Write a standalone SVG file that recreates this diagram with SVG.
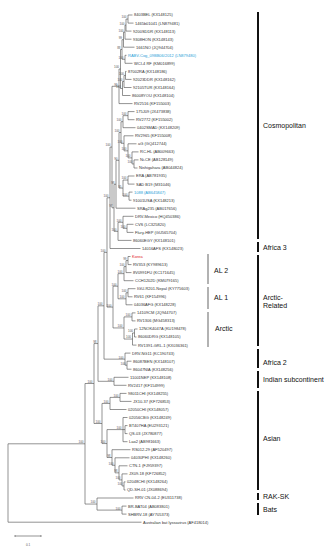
<svg xmlns="http://www.w3.org/2000/svg" width="331" height="550" viewBox="0 0 331 550">
<style>
.br{fill:none;stroke:#4a4a4a;stroke-width:0.6}
.lf{font-family:"Liberation Sans",Arial,sans-serif;font-size:4px;fill:#333}
.bs{font-family:"Liberation Sans",Arial,sans-serif;font-size:3px;fill:#555;text-anchor:end}
.gl{font-family:"Liberation Sans",Arial,sans-serif;font-size:7px;fill:#111}
.bar{stroke:#111;stroke-width:2}
.gbar{stroke:#999;stroke-width:1.5}
.blue{fill:#2a9fd8}
.red{fill:#e02020}
</style>
<rect width="331" height="550" fill="#fff"/>
<g id="connectors">
<path class="br" d="M128,15 V23.1 H133.5 M128,15 H132.5
M126,19.05 V31.1 H131.5 M126,19.05 H128
M125,25.1 V39.2 H131.5 M125,25.1 H126
M123.5,32.15 V47.2 H134.5 M123.5,32.15 H125
M125,55.3 V63.3 H132.5 M125,55.3 H126.5
M122,39.7 V59.3 H125 M122,39.7 H123.5
M125.5,71.4 V79.4 H131.5 M125.5,71.4 H126.5
M124,75.4 V87.5 H131.5 M124,75.4 H125.5
M122.5,81.45 V95.5 H130.5 M122.5,81.45 H124
M120.5,49.5 V88.5 H122.5 M120.5,49.5 H122
M119,69 V103.6 H132.5 M119,69 H120.5
M128,111.6 V119.7 H134.5 M128,111.6 H134.5
M123,115.65 V127.7 H135.5 M123,115.65 H128
M134,159.9 V168 H137.5 M134,159.9 H138.5
M132,151.9 V163.95 H134 M132,151.9 H138.5
M128,143.8 V157.9 H132 M128,143.8 H136.5
M124,135.8 V150.85 H128 M124,135.8 H133.5
M121,121.7 V143.3 H124 M121,121.7 H123
M128,176 V184.1 H134.5 M128,176 H134.5
M129,192.1 V200.2 H131.5 M129,192.1 H132.5
M123,180.05 V196.15 H129 M123,180.05 H128
M119,132.5 V188.1 H123 M119,132.5 H121
M116,160.3 V208.2 H135.5 M116,160.3 H119
M127,224.3 V232.4 H133.5 M127,224.3 H133.5
M123,216.3 V228.35 H127 M123,216.3 H133.5
M118,222.3 V240.4 H131.5 M118,222.3 H123
M114,184.25 V231.35 H118 M114,184.25 H116
M112,86.3 V207.8 H114 M112,86.3 H119
M110,147.05 V248.5 H140.5 M110,147.05 H112
M128,256.5 V264.6 H131.5 M128,256.5 H130.5
M126,260.55 V272.6 H131.5 M126,260.55 H128
M124,266.6 V280.7 H133.5 M124,266.6 H126
M128,288.7 V296.8 H132.5 M128,288.7 H135.5
M126,292.75 V304.8 H132.5 M126,292.75 H128
M118,273.65 V298.8 H126 M118,273.65 H124
M132,312.9 V320.9 H135.5 M132,312.9 H135.5
M134.5,329 V337 H136.5 M134.5,329 H137.5
M132.5,333 V345.1 H136.5 M132.5,333 H134.5
M124,316.9 V339.05 H132.5 M124,316.9 H132
M113,286.2 V327.95 H124 M113,286.2 H118
M107,197.75 V307.1 H113 M107,197.75 H110
M127,361.2 V369.2 H131.5 M127,361.2 H131.5
M125,353.1 V365.2 H127 M125,353.1 H130.5
M104,252.4 V359.15 H125 M104,252.4 H107
M114,377.3 V385.3 H126.5 M114,377.3 H128.5
M98,305.8 V381.3 H114 M98,305.8 H104
M120,393.4 V401.4 H131.5 M120,393.4 H126.5
M110,397.4 V409.5 H126.5 M110,397.4 H120
M125,425.6 V433.6 H127.5 M125,425.6 H127.5
M123,417.5 V441.7 H127.5 M123,417.5 H127.5 M123,429.6 H125
M124,481.9 V490 H125.5 M124,481.9 H125.5
M122,473.9 V485.95 H124 M122,473.9 H127.5
M119,465.8 V479.9 H122 M119,465.8 H127.5
M115,457.8 V472.85 H119 M115,457.8 H129.5
M112,449.7 V465.3 H115 M112,449.7 H130.5
M107,429.6 V457.5 H112 M107,429.6 H123
M102,403.45 V443.55 H107 M102,403.45 H110
M94,343.55 V423.5 H102 M94,343.55 H98
M122,506.1 V514.1 H126.5 M122,506.1 H126.5
M97,498 V510.1 H122 M97,498 H133.5
M85,383.5 V504.05 H97 M85,383.5 H94
M8,443.8 V522.2 H141.5 M8,443.8 H85"/>
</g>
<g id="bootstrap">
<text class="bs" x="126.5" y="18.45">100</text>
<text class="bs" x="124.5" y="24.5">100</text>
<text class="bs" x="123.5" y="31.55">100</text>
<text class="bs" x="122" y="39.1">99</text>
<text class="bs" x="123.5" y="58.7">100</text>
<text class="bs" x="120.5" y="48.9">88</text>
<text class="bs" x="124" y="74.8">100</text>
<text class="bs" x="122.5" y="80.85">100</text>
<text class="bs" x="121" y="87.9">100</text>
<text class="bs" x="119" y="68.4">100</text>
<text class="bs" x="117.5" y="85.7">99</text>
<text class="bs" x="110.5" y="146.45">100</text>
<text class="bs" x="126.5" y="115.05">100</text>
<text class="bs" x="121.5" y="121.1">100</text>
<text class="bs" x="122.5" y="142.7">100</text>
<text class="bs" x="126.5" y="150.25">100</text>
<text class="bs" x="130.5" y="157.3">100</text>
<text class="bs" x="132.5" y="163.35">100</text>
<text class="bs" x="119.5" y="131.9">100</text>
<text class="bs" x="126.5" y="179.45">100</text>
<text class="bs" x="127.5" y="195.55">100</text>
<text class="bs" x="121.5" y="187.5">95</text>
<text class="bs" x="117.5" y="159.7">90</text>
<text class="bs" x="114.5" y="183.65">98</text>
<text class="bs" x="125.5" y="227.75">100</text>
<text class="bs" x="121.5" y="221.7">100</text>
<text class="bs" x="116.5" y="230.75">100</text>
<text class="bs" x="112.5" y="207.2">97</text>
<text class="bs" x="108.5" y="197.15">100</text>
<text class="bs" x="126.5" y="259.95">99</text>
<text class="bs" x="124.5" y="266">100</text>
<text class="bs" x="122.5" y="273.05">100</text>
<text class="bs" x="126.5" y="292.15">100</text>
<text class="bs" x="124.5" y="298.2">100</text>
<text class="bs" x="116.5" y="285.6">100</text>
<text class="bs" x="130.5" y="316.3">100</text>
<text class="bs" x="133" y="332.4">100</text>
<text class="bs" x="131" y="338.45">100</text>
<text class="bs" x="122.5" y="327.35">100</text>
<text class="bs" x="111.5" y="306.5">100</text>
<text class="bs" x="105.5" y="251.8">100</text>
<text class="bs" x="125.5" y="364.6">100</text>
<text class="bs" x="123.5" y="358.55">100</text>
<text class="bs" x="102.5" y="305.2">100</text>
<text class="bs" x="112.5" y="380.7">100</text>
<text class="bs" x="96.5" y="342.95">98</text>
<text class="bs" x="118.5" y="396.8">100</text>
<text class="bs" x="108.5" y="402.85">100</text>
<text class="bs" x="121.5" y="429">100</text>
<text class="bs" x="122.5" y="485.35">100</text>
<text class="bs" x="120.5" y="479.3">100</text>
<text class="bs" x="117.5" y="472.25">98</text>
<text class="bs" x="113.5" y="464.7">100</text>
<text class="bs" x="110.5" y="456.9">98</text>
<text class="bs" x="105.5" y="442.95">100</text>
<text class="bs" x="100.5" y="422.9">100</text>
<text class="bs" x="92.5" y="382.9">100</text>
<text class="bs" x="120.5" y="509.5">100</text>
<text class="bs" x="95.5" y="503.45">100</text>
<text class="bs" x="83.5" y="443.2">100</text>
</g>
<g id="leaf1"><text class="lf" x="134" y="16.4">8403BEL (KX148125)</text></g>
<g id="leaf2"><text class="lf" x="135" y="24.5">1465b01041 (LN879481)</text></g>
<g id="leaf3"><text class="lf" x="133" y="32.5">9200SDDR (KX148113)</text></g>
<g id="leaf4"><text class="lf" x="133" y="40.6">9308HON (KX148143)</text></g>
<g id="leaf5"><text class="lf" x="136" y="48.6">1661NO (JQ944704)</text></g>
<g id="leaf6"><text class="lf blue" x="128" y="56.7">RABV-Cog_09BB06/2012 (LN879480)</text></g>
<g id="leaf7"><text class="lf" x="134" y="64.7">WCI-4 RF (KM016899)</text></g>
<g id="leaf8"><text class="lf" x="128" y="72.8">87002RA (KX148186)</text></g>
<g id="leaf9"><text class="lf" x="133" y="80.8">92023DDR (KX148162)</text></g>
<g id="leaf10"><text class="lf" x="133" y="88.9">92105TUR (KX148164)</text></g>
<g id="leaf11"><text class="lf" x="132" y="96.9">86008YOU (KX148104)</text></g>
<g id="leaf12"><text class="lf" x="134" y="105">RV2516 (KF155003)</text></g>
<g id="leaf13"><text class="lf" x="136" y="113">175J09 (JX473838)</text></g>
<g id="leaf14"><text class="lf" x="136" y="121.1">RV2772 (KF155002)</text></g>
<g id="leaf15"><text class="lf" x="137" y="129.1">0402SMAD (KX148209)</text></g>
<g id="leaf16"><text class="lf" x="135" y="137.2">RV2965 (KF155008)</text></g>
<g id="leaf17"><text class="lf" x="138" y="145.2">aG (GQ412744)</text></g>
<g id="leaf18"><text class="lf" x="140" y="153.3">RC-HL (AB009663)</text></g>
<g id="leaf19"><text class="lf" x="140" y="161.3">Ni-CE (AB128149)</text></g>
<g id="leaf20"><text class="lf" x="139" y="169.4">Nishigahara (AB044824)</text></g>
<g id="leaf21"><text class="lf" x="136" y="177.4">ERA (AB781935)</text></g>
<g id="leaf22"><text class="lf" x="136" y="185.5">SAD B19 (M31046)</text></g>
<g id="leaf23"><text class="lf blue" x="134" y="193.5">1088 (AB645847)</text></g>
<g id="leaf24"><text class="lf" x="133" y="201.6">91001USA (KX148213)</text></g>
<g id="leaf25"><text class="lf" x="137" y="209.6">SRAg235 (AB017656)</text></g>
<g id="leaf26"><text class="lf" x="135" y="217.7">DRV-Mexico (HQ450386)</text></g>
<g id="leaf27"><text class="lf" x="135" y="225.7">CVS (LC325820)</text></g>
<g id="leaf28"><text class="lf" x="135" y="233.8">Flury-HEP (GU565704)</text></g>
<g id="leaf29"><text class="lf" x="133" y="241.8">86060EGY (KX148101)</text></g>
<g id="leaf30"><text class="lf" x="142" y="249.9">14016AFS (KX148023)</text></g>
<g id="leaf31"><text class="lf red" x="132" y="257.9">Korea</text></g>
<g id="leaf32"><text class="lf" x="133" y="266">RV353 (KY989613)</text></g>
<g id="leaf33"><text class="lf" x="133" y="274">8V0991FU (KC171645)</text></g>
<g id="leaf34"><text class="lf" x="135" y="282.1">CCH1202D (KM079165)</text></g>
<g id="leaf35"><text class="lf" x="137" y="290.1">IGU-R201-Nepal (KY775603)</text></g>
<g id="leaf36"><text class="lf" x="134" y="298.2">RV61 (KF154996)</text></g>
<g id="leaf37"><text class="lf" x="134" y="306.2">04036AFG (KX148228)</text></g>
<g id="leaf38"><text class="lf" x="137" y="314.3">14109CM (JQ944707)</text></g>
<g id="leaf39"><text class="lf" x="137" y="322.3">RV1306 (MG458313)</text></g>
<g id="leaf40"><text class="lf" x="139" y="330.4">12NOK4047A (KU198478)</text></g>
<g id="leaf41"><text class="lf" x="138" y="338.4">86060DRG (KX148105)</text></g>
<g id="leaf42"><text class="lf" x="138" y="346.5">RV1391-GRL-1 (KX036361)</text></g>
<g id="leaf43"><text class="lf" x="132" y="354.5">DRV-NG11 (KC190743)</text></g>
<g id="leaf44"><text class="lf" x="133" y="362.6">86087BEN (KX148107)</text></g>
<g id="leaf45"><text class="lf" x="133" y="370.6">86047NIA (KX148256)</text></g>
<g id="leaf46"><text class="lf" x="130" y="378.7">11001NEP (KX148108)</text></g>
<g id="leaf47"><text class="lf" x="128" y="386.7">RV2417 (KF154999)</text></g>
<g id="leaf48"><text class="lf" x="128" y="394.8">98011CHI (KX148255)</text></g>
<g id="leaf49"><text class="lf" x="133" y="402.8">JX10-37 (KF726853)</text></g>
<g id="leaf50"><text class="lf" x="128" y="410.9">02050CHI (KX148057)</text></g>
<g id="leaf51"><text class="lf" x="129" y="418.9">02056CBG (KX148249)</text></g>
<g id="leaf52"><text class="lf" x="129" y="427">BT407HA (EU293121)</text></g>
<g id="leaf53"><text class="lf" x="129" y="435">QS-03 (JX780877)</text></g>
<g id="leaf54"><text class="lf" x="129" y="443.1">Lao2 (AB981663)</text></g>
<g id="leaf55"><text class="lf" x="132" y="451.1">RS012-29 (AF520497)</text></g>
<g id="leaf56"><text class="lf" x="131" y="459.2">04030PHI (KX148260)</text></g>
<g id="leaf57"><text class="lf" x="129" y="467.2">CTN-1 (FJ959397)</text></g>
<g id="leaf58"><text class="lf" x="129" y="475.3">JX09-18 (KF726852)</text></g>
<g id="leaf59"><text class="lf" x="127" y="483.3">02048CHI (KX148264)</text></g>
<g id="leaf60"><text class="lf" x="127" y="491.4">QD-SH-01 (JX088694)</text></g>
<g id="leaf61"><text class="lf" x="135" y="499.4">RRV CN-04-2 (EU311738)</text></g>
<g id="leaf62"><text class="lf" x="128" y="507.5">BR-BAT04 (AB083801)</text></g>
<g id="leaf63"><text class="lf" x="128" y="515.5">SHBRV-18 (AY705373)</text></g>
<g id="leaf64"><text class="lf" x="143" y="523.6">Australian bat lyssavirus (AF418014)</text></g>
<g id="group-cosmopolitan"><line class="bar" x1="258" y1="12" x2="258" y2="239"/><text class="gl" x="263" y="127.5">Cosmopolitan</text></g>
<g id="group-africa3"><line class="bar" x1="258" y1="242" x2="258" y2="252"/><text class="gl" x="263" y="249.5">Africa 3</text></g>
<g id="group-arctic-related"><line class="bar" x1="258" y1="255" x2="258" y2="346"/><text class="gl" x="263" y="300">Arctic-</text><text class="gl" x="263" y="308">Related</text></g>
<g id="group-al2"><line class="gbar" x1="208" y1="254" x2="208" y2="284"/><text class="gl" x="214" y="272.5">AL 2</text></g>
<g id="group-al1"><line class="gbar" x1="208" y1="287" x2="208" y2="309"/><text class="gl" x="214" y="299.5">AL 1</text></g>
<g id="group-arctic"><line class="gbar" x1="208" y1="312" x2="208" y2="347"/><text class="gl" x="215" y="330.5">Arctic</text></g>
<g id="group-africa2"><line class="bar" x1="258" y1="349" x2="258" y2="368"/><text class="gl" x="263" y="364.5">Africa 2</text></g>
<g id="group-indian"><line class="bar" x1="258" y1="371" x2="258" y2="388"/><text class="gl" x="263" y="381.5">Indian subcontinent</text></g>
<g id="group-asian"><line class="bar" x1="258" y1="391" x2="258" y2="490"/><text class="gl" x="263" y="440.5">Asian</text></g>
<g id="group-raksk"><line class="bar" x1="258" y1="493" x2="258" y2="500"/><text class="gl" x="263" y="498.5">RAK-SK</text></g>
<g id="group-bats"><line class="bar" x1="258" y1="503" x2="258" y2="515"/><text class="gl" x="263" y="511.5">Bats</text></g>
<g id="scale"><path class="br" d="M15,536 H41 M15,535 V537 M41,535 V537"/><text class="bs" x="28" y="546" style="text-anchor:middle">0.1</text></g>
</svg>
